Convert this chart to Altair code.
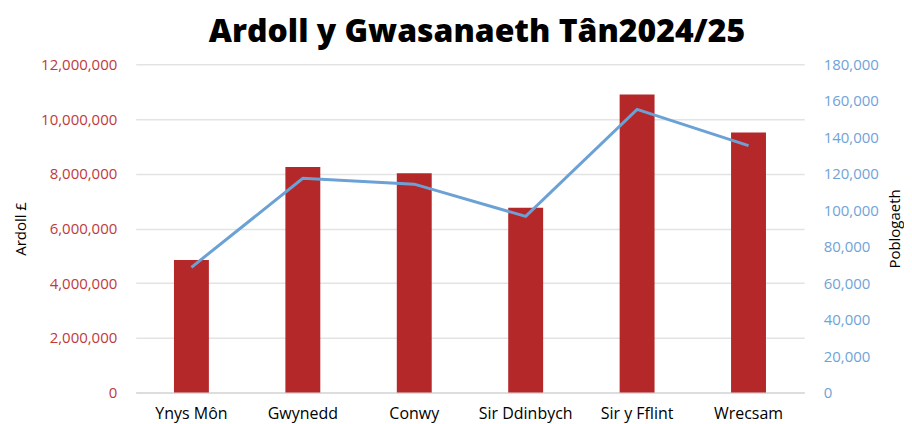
import altair as alt
import pandas as pd

areas = ["Ynys Môn", "Gwynedd", "Conwy", "Sir Ddinbych", "Sir y Fflint", "Wrecsam"]
levy = [4850000, 8250000, 8020000, 6760000, 10900000, 9510000]
population = [68700, 117500, 114300, 96600, 155300, 135400]

left_ticks = [0, 2000000, 4000000, 6000000, 8000000, 10000000, 12000000]
right_ticks = [0, 20000, 40000, 60000, 80000, 100000, 120000, 140000, 160000, 180000]

df = pd.DataFrame({"area": areas, "levy": levy, "population": population})

FONT = "Open Sans"
RED = "#B5282A"
BLUE = "#6CA1D5"

x = alt.X("area:N", sort=areas, title=None,
          scale=alt.Scale(paddingInner=0, paddingOuter=0),
          axis=alt.Axis(labelAngle=0, labelFontSize=16, labelColor="#000000",
                        labelFont=FONT, labelPadding=13, ticks=False,
                        domainColor="#D9D9D9", domainWidth=1.5))

bars = alt.Chart(df).mark_bar(color=RED, size=35).encode(
    x=x,
    y=alt.Y("levy:Q", title="Ardoll £",
            scale=alt.Scale(domain=[0, 12000000], nice=False),
            axis=alt.Axis(values=left_ticks, format=",d", labelColor="#C0393B",
                          labelFontSize=15, labelFont=FONT, labelPadding=19,
                          ticks=False, domain=False, gridColor="#E3E3E3",
                          gridWidth=1.5, titleFontSize=15, titleFont=FONT,
                          titleFontWeight="normal", titleColor="#000000",
                          titlePadding=12))
)

line = alt.Chart(df).mark_line(color=BLUE, strokeWidth=3).encode(
    x=x,
    y=alt.Y("population:Q", title="Poblogaeth",
            scale=alt.Scale(domain=[0, 180000], nice=False),
            axis=alt.Axis(orient="right", values=right_ticks, format=",d",
                          labelColor="#6FA3D8", labelFontSize=15, labelFont=FONT,
                          labelPadding=19, ticks=False, domain=False, grid=False,
                          titleFontSize=15, titleFont=FONT, titleFontWeight="normal",
                          titleColor="#000000", titleAngle=270, titlePadding=24))
)

chart = alt.layer(bars, line).resolve_scale(y="independent").properties(
    width=670,
    height=329,
    autosize=alt.AutoSizeParams(type="none"),
    padding={"left": 128, "top": 56, "right": 100, "bottom": 30},
    title=alt.TitleParams("Ardoll y Gwasanaeth Tân2024/25", font=FONT,
                          fontSize=32, fontWeight=800, color="#000000",
                          anchor="middle", offset=8, dx=7),
).configure_view(stroke=None)

chart.save("out.html", embed_options={"renderer": "svg", "actions": False})
